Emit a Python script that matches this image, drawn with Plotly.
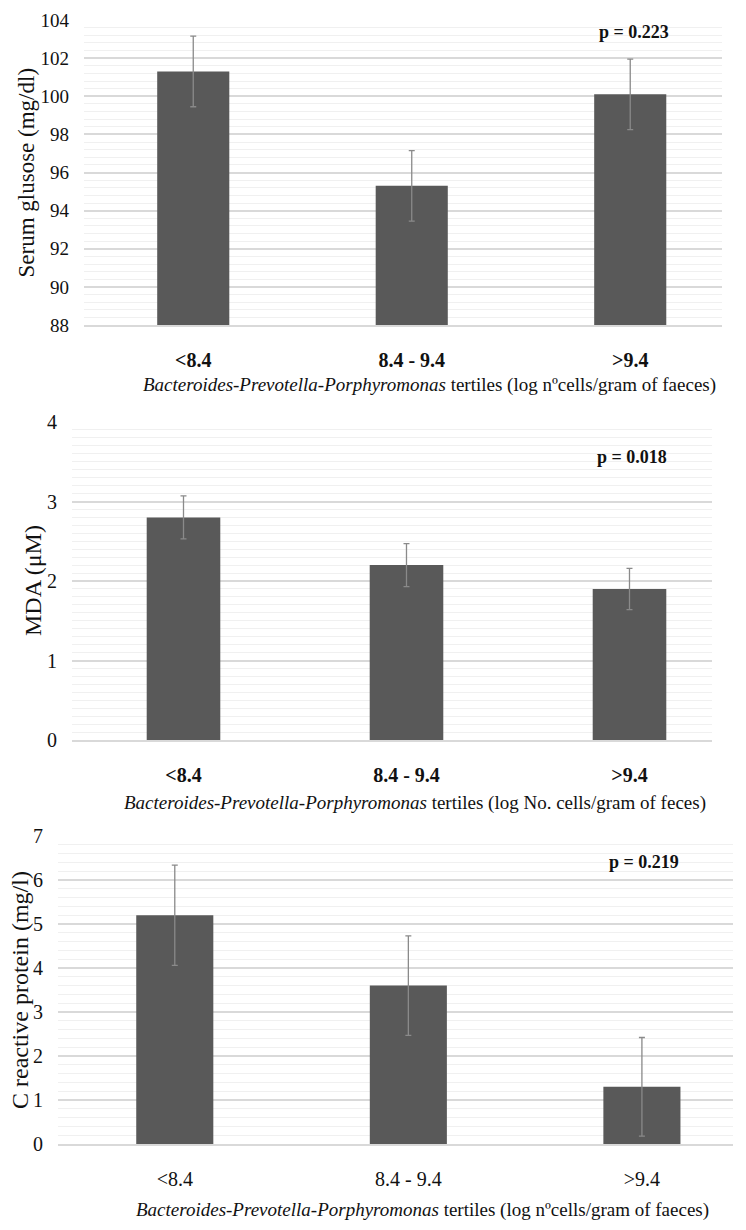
import plotly.graph_objects as go

# ---------------- data ----------------
categories = ["<8.4", "8.4 - 9.4", ">9.4"]

glucose = [101.3, 95.3, 100.1]
glucose_err = [1.85, 1.85, 1.85]

mda = [2.80, 2.20, 1.90]
mda_err = [0.27, 0.27, 0.26]

crp = [5.2, 3.6, 1.3]
crp_err = [1.14, 1.13, 1.12]

p_values = ["p = 0.223", "p = 0.018", "p = 0.219"]

xtitle_nc = "<i>Bacteroides-Prevotella-Porphyromonas</i> tertiles (log nºcells/gram of faeces)"
xtitle_no = "<i>Bacteroides-Prevotella-Porphyromonas</i> tertiles (log No. cells/gram of feces)"
ytitles = ["Serum glusose (mg/dl)", "MDA (μM)", "C reactive protein (mg/l)"]

# ---------------- style ----------------
PAGE_W, PAGE_H = 746, 1230
BODY = 8                      # default page margin around the figure
W, H = PAGE_W - 2 * BODY, PAGE_H - 2 * BODY
FONT = "Liberation Serif"
BAR = "#595959"
ERR = "#8a8a8a"
MAJ = "#d9d9d9"
MIN = "#f0f0f0"
TXT = "#111111"


def esc(s):
    return s.replace("<", "&lt;").replace(">", "&gt;")


def px_x(v):
    return (v - BODY) / W


def px_y(v):
    return 1 - (v - BODY) / H


panels = [
    dict(vals=glucose, err=glucose_err, rng=[88, 104], dtick=2, minor=0.4,
         xdom=(84, 722), ytop=20, ybot=325, xr=[-0.5, 2.42], bold=True,
         title=xtitle_nc, title_y=385, title_x=430, yfs=19,
         ytitle=ytitles[0], ytitle_x=26, ytsize=23, p=p_values[0], px=634, py=32),
    dict(vals=mda, err=mda_err, rng=[0, 4], dtick=1, minor=0.1,
         xdom=(72, 712), ytop=422, ybot=740, xr=[-0.5, 2.37], bold=True,
         title=xtitle_no, title_y=803, title_x=415, yfs=20,
         ytitle=ytitles[1], ytitle_x=33, ytsize=24, p=p_values[1], px=632, py=457),
    dict(vals=crp, err=crp_err, rng=[0, 7], dtick=1, minor=0.2,
         xdom=(58, 733), ytop=836, ybot=1144, xr=[-0.5, 2.39], bold=False,
         title=xtitle_nc, title_y=1210, title_x=422, yfs=20,
         ytitle=ytitles[2], ytitle_x=20, ytsize=24, p=p_values[2], px=644, py=862),
]

fig = go.Figure()
annotations = []
layout_axes = {}

for i, pn in enumerate(panels, start=1):
    sfx = "" if i == 1 else str(i)
    fig.add_trace(go.Bar(
        x=categories, y=pn["vals"],
        xaxis="x" + sfx, yaxis="y" + sfx,
        width=0.33, marker=dict(color=BAR, line=dict(width=0)),
        error_y=dict(type="data", array=pn["err"], visible=True,
                     color=ERR, thickness=1.3, width=3),
        showlegend=False, hoverinfo="x+y",
    ))
    ticktext = [("<b>%s</b>" % esc(c)) if pn["bold"] else esc(c) for c in categories]
    layout_axes["xaxis" + sfx] = dict(
        domain=[px_x(pn["xdom"][0]), px_x(pn["xdom"][1])],
        anchor="y" + sfx, type="category",
        range=pn["xr"], tickmode="array", tickvals=categories, ticktext=ticktext,
        showgrid=False, zeroline=False, showline=True, linecolor=MAJ, linewidth=1.5,
        ticks="", ticklabelstandoff=16, automargin=False, ticklabeloverflow="allow",
        tickfont=dict(family=FONT, size=20, color=TXT),
        fixedrange=True,
    )
    layout_axes["yaxis" + sfx] = dict(
        domain=[px_y(pn["ybot"]), px_y(pn["ytop"])],
        anchor="x" + sfx, range=pn["rng"], dtick=pn["dtick"], tick0=0,
        showgrid=True, gridcolor=MAJ, gridwidth=1.5,
        minor=dict(dtick=pn["minor"], tick0=0, showgrid=True, gridcolor=MIN, gridwidth=1),
        zeroline=False, showline=False, ticks="", ticklabelstandoff=14, automargin=False,
        ticklabeloverflow="allow",
        tickfont=dict(family=FONT, size=pn["yfs"], color=TXT),
        fixedrange=True,
    )
    annotations.append(dict(
        text=pn["title"], xref="paper", yref="paper",
        x=px_x(pn["title_x"]), y=px_y(pn["title_y"]),
        xanchor="center", yanchor="middle", showarrow=False,
        font=dict(family=FONT, size=19, color=TXT),
    ))
    annotations.append(dict(
        text=pn["ytitle"], xref="paper", yref="paper",
        x=px_x(pn["ytitle_x"]), y=px_y((pn["ytop"] + pn["ybot"]) / 2),
        xanchor="center", yanchor="middle", showarrow=False, textangle=-90,
        font=dict(family=FONT, size=pn["ytsize"], color=TXT),
    ))
    annotations.append(dict(
        text="<b>%s</b>" % pn["p"], xref="paper", yref="paper",
        x=px_x(pn["px"]), y=px_y(pn["py"]),
        xanchor="center", yanchor="middle", showarrow=False,
        font=dict(family=FONT, size=18, color=TXT),
    ))

fig.update_layout(
    width=W, height=H,
    margin=dict(l=0, r=0, t=0, b=0, pad=0, autoexpand=False),
    paper_bgcolor="white", plot_bgcolor="white",
    bargap=0.67,
    annotations=annotations,
    **layout_axes,
)

fig.write_html("out.html")
